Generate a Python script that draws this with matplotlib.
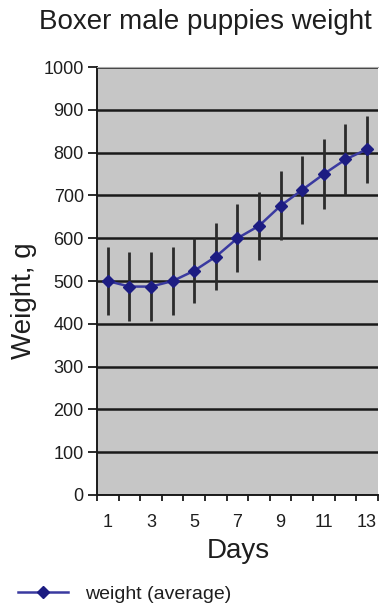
import matplotlib
matplotlib.use("Agg")
import matplotlib.pyplot as plt
import numpy as np
from matplotlib.lines import Line2D

days = [1, 2, 3, 4, 5, 6, 7, 8, 9, 10, 11, 12, 13]
weight_avg = [500, 487, 487, 500, 524, 557, 600, 629, 676, 713, 750, 784, 808]
weight_err = [80, 80, 80, 80, 76, 78, 80, 80, 80, 80, 82, 82, 78]
xtick_labels = ["1", "3", "5", "7", "9", "11", "13"]
yticks = [0, 100, 200, 300, 400, 500, 600, 700, 800, 900, 1000]

plt.rcParams['font.family'] = ['Liberation Sans', 'DejaVu Sans']
TXT = "#1e1e1e"

fig = plt.figure(figsize=(3.79, 6.04), dpi=100)
ax = fig.add_axes([0.256, 0.1805, 0.741, 0.7085])
ax.set_facecolor("#c6c6c6")

ax.set_xlim(0.5, 13.5)
ax.set_ylim(0, 1000)
ax.set_yticks(yticks)
ax.yaxis.grid(True, color="#1a1a1a", linewidth=1.8)
ax.set_axisbelow(True)

ax.errorbar(days, weight_avg, yerr=weight_err, fmt='none', ecolor="#2b2b2b",
            elinewidth=2.0, capsize=0, zorder=2)
ax.plot(days, weight_avg, color="#3a3aa0", linewidth=1.8, marker='D',
        markersize=6.5, markerfacecolor="#1c1c82", markeredgecolor="#1c1c82", zorder=3)

ax.set_xticks([int(l) for l in xtick_labels])
ax.set_xticklabels(xtick_labels)
ax.set_xticks(np.arange(0.5, 14.0, 1.0), minor=True)
ax.tick_params(axis='x', which='major', length=0, pad=14, labelsize=13, labelcolor=TXT)
ax.tick_params(axis='x', which='minor', length=4, width=1.3, direction='out', color="#1a1a1a")
ax.tick_params(axis='y', which='major', length=6.5, width=1.3, direction='out', labelsize=13,
               pad=3, color="#1a1a1a", labelcolor=TXT)

for s in ['left', 'bottom']:
    ax.spines[s].set_color("#1a1a1a")
    ax.spines[s].set_linewidth(1.4)
ax.spines['top'].set_color("#aaaaaa")
ax.spines['top'].set_linewidth(0.8)
ax.spines['right'].set_visible(False)

fig.text(0.628, 0.088, "Days", fontsize=20, ha='center', va='center', color=TXT)
fig.text(0.063, 0.503, "Weight, g", fontsize=20, ha='center', va='center', rotation=90, color=TXT)
fig.text(0.541, 0.9636, "Boxer male puppies weight", fontsize=20, ha='center', va='center', color=TXT)

handle = Line2D([0], [0], color="#3a3aa0", linewidth=1.8, marker='D', markersize=6.5,
                markerfacecolor="#1c1c82", markeredgecolor="#1c1c82")
fig.legend([handle], ["weight (average)"], loc='center left', bbox_to_anchor=(0.0, 0.016),
           frameon=False, fontsize=14, handlelength=2.6, handletextpad=0.85,
           labelcolor=TXT)

fig.savefig("out.png", dpi=100)
